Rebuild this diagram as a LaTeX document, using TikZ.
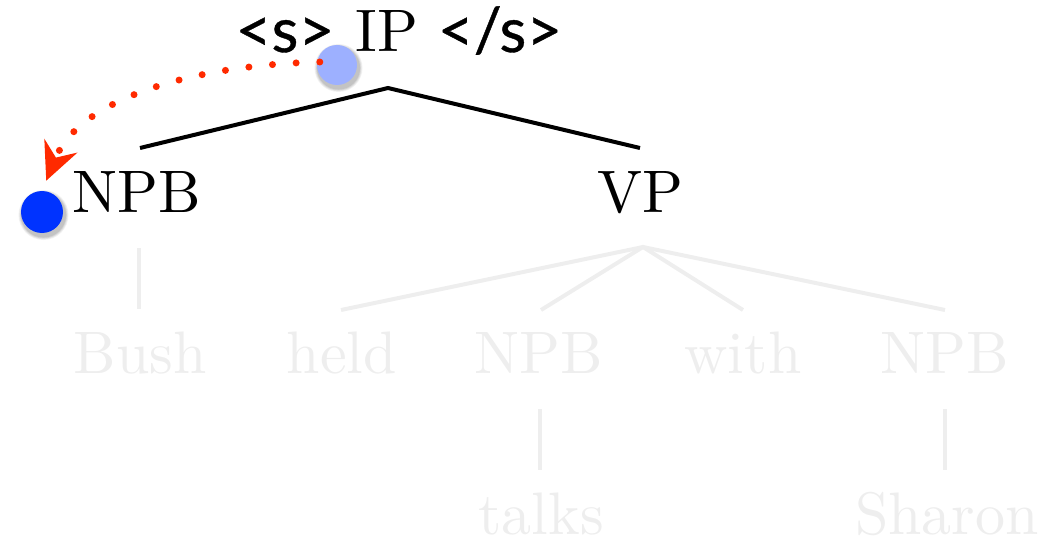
\documentclass[tikz,border=0pt]{standalone}
\usepackage{fontspec}
\setmainfont{lmroman10-regular.otf}
\newfontfamily\tagfont{Lato}[FakeBold=0.6]
\usetikzlibrary{arrows.meta,calc}
\definecolor{lightdot}{HTML}{9DB0FF}
\definecolor{darkdot}{HTML}{0033FF}
\definecolor{pathred}{HTML}{FF2A00}
\definecolor{faded}{HTML}{EEEEEE}
\tikzset{
  cat/.style={font=\fontsize{60}{60}\selectfont, inner sep=0pt, anchor=base},
  tag/.style={font=\tagfont\fontsize{62}{62}\selectfont, inner sep=0pt, anchor=base},
  branch/.style={line width=4pt, black},
  fadedbranch/.style={line width=4pt, faded},
  ball/.style={circle, inner sep=0pt, minimum size=#1},
}
% soft shadow under a dot: a few translucent discs
\newcommand\softshadow[2]{%
  \foreach \r/\o in {1.0/0.05,0.8/0.06,0.6/0.07,0.4/0.08}{
    \fill[black, opacity=\o] (#1)++(1.5,3) circle ({#2+\r*4});
  }%
}
\begin{document}
\begin{tikzpicture}[x=1pt, y=-1pt]
  \useasboundingbox (0,0) rectangle (1040,540);

  % top level
  \node[tag] (bos) at (285,52) {<s>};
  \node[cat] (ip) at (387,52) {IP};
  \node[tag] (eos) at (500,52) {</s>};
  \node[cat] (npb) at (137,212) {NPB};
  \node[cat] (vp) at (640,212) {VP};

  \coordinate (ipfoot) at (388,88);
  \coordinate (npbtop) at (140,148);
  \coordinate (vptop) at (640,148);
  \draw[branch, line join=miter] (npbtop) -- (ipfoot) -- (vptop);

  % faded lower part of the tree
  \node[cat, text=faded] (bush) at (140,373) {Bush};
  \node[cat, text=faded] (held) at (342,373) {held};
  \node[cat, text=faded] (npbb) at (539,373) {NPB};
  \node[cat, text=faded] (with) at (743,373) {with};
  \node[cat, text=faded] (npbc) at (945,373) {NPB};
  \node[cat, text=faded] (talks) at (541,534) {talks};
  \node[cat, text=faded] (sharon) at (947,534) {Sharon};

  \coordinate (vpfoot) at (643,247);
  \coordinate (heldtop) at (341,310);
  \coordinate (npbbtop) at (541,310);
  \coordinate (withtop) at (743,310);
  \coordinate (npbctop) at (945,310);
  \draw[fadedbranch] (heldtop) -- (vpfoot) -- (npbctop);
  \draw[fadedbranch] (npbbtop) -- (vpfoot) -- (withtop);
  \draw[fadedbranch] (139,248) coordinate (npbfoot) -- (139,309) coordinate (bushtop);
  \draw[fadedbranch] (540,409) coordinate (npbbfoot) -- (540,470) coordinate (talkstop);
  \draw[fadedbranch] (945,409) coordinate (npbcfoot) -- (945,470) coordinate (sharontop);

  % dots
  \softshadow{337,65}{20}
  \node[ball=40pt, fill=lightdot] (ipdot) at (337,65) {};
  \softshadow{42,212}{21}
  \node[ball=42pt, fill=darkdot] (npbdot) at (42,212) {};

  % dotted arrow between the dots
  \draw[pathred, line width=7pt, line cap=round, dash pattern=on 0pt off 23.7pt,
        -{Stealth[length=38pt, width=36pt, inset=13pt, line width=0pt]},
        shorten >=11pt]
    ($(ipdot.west)+(3,-3)$) .. controls (190,65) and (80,100) .. (npbdot.north);
\end{tikzpicture}
\end{document}
